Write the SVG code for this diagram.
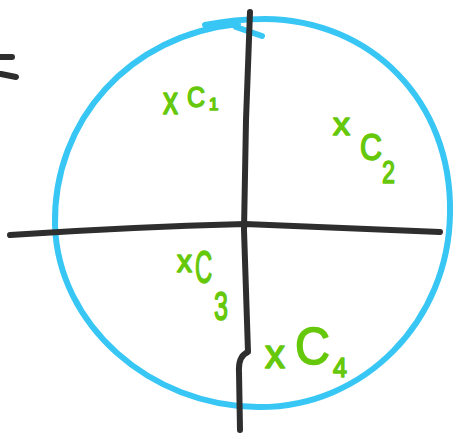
<svg xmlns="http://www.w3.org/2000/svg" width="457" height="433" viewBox="0 0 457 433">
<style>
.blue{fill:none;stroke:#38c6f4;stroke-width:6;stroke-linecap:round;stroke-linejoin:round}
.ink{fill:none;stroke:#2e2e2e;stroke-width:6;stroke-linecap:round;stroke-linejoin:round}
.g{fill:#66c80a;stroke:#66c80a;stroke-width:1.6;stroke-linejoin:round;font-family:"Liberation Sans",Arial,sans-serif}
</style>
<rect width="457" height="433" fill="#ffffff"/>
<g id="circle">
<path class="blue" d="M205,25 C230,20 245,19 265,19 C370,20 452,100 450,213 C449,320 365,408 258,407 C150,406 58,325 55,225 C53,120 130,35 238,24 M236,27 L262,36"/>
</g>
<g id="connectors">
<path class="ink" d="M10,235 Q130,227 245,224 L440,232"/>
<path class="ink" d="M250,12 L246,120 L244,230 L248,352 Q238,356 239,372 L240,430"/>
<path class="ink" d="M1,57 L12,57 M1,74 L16,77"/>
</g>
<g id="C1" class="g">
<text x="163" y="114" font-size="38" textLength="15" lengthAdjust="spacingAndGlyphs">x</text>
<text x="187" y="107" font-size="30" textLength="18" lengthAdjust="spacingAndGlyphs">C</text>
<text x="209" y="110" font-size="17">1</text>
</g>
<g id="C2" class="g">
<text x="333" y="135" font-size="32" textLength="17" lengthAdjust="spacingAndGlyphs">x</text>
<text x="360" y="160" font-size="36" textLength="22" lengthAdjust="spacingAndGlyphs">C</text>
<text x="382" y="183" font-size="32" textLength="13" lengthAdjust="spacingAndGlyphs">2</text>
</g>
<g id="C3" class="g">
<text x="177" y="272" font-size="32" textLength="15" lengthAdjust="spacingAndGlyphs">x</text>
<text transform="translate(195,283) scale(0.52,1)" font-size="46">C</text>
<text x="214" y="320" font-size="40" textLength="14" lengthAdjust="spacingAndGlyphs">3</text>
</g>
<g id="C4" class="g">
<text x="265" y="368" font-size="40" textLength="20" lengthAdjust="spacingAndGlyphs">x</text>
<text x="295" y="364" font-size="52" textLength="35" lengthAdjust="spacingAndGlyphs">C</text>
<text x="333" y="377" font-size="28" textLength="14" lengthAdjust="spacingAndGlyphs">4</text>
</g>
</svg>
